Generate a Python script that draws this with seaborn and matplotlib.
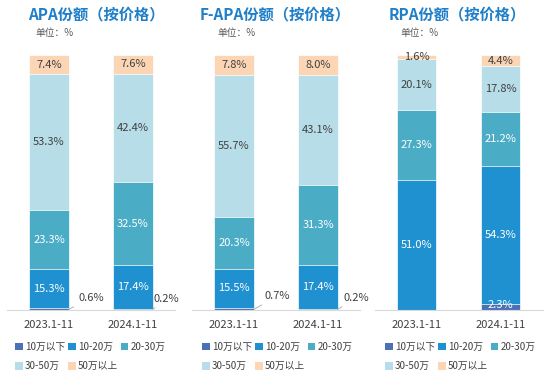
import numpy as np
import pandas as pd
import seaborn as sns
import matplotlib.pyplot as plt
from matplotlib.patches import Patch

sns.set_style("white")
plt.rcParams['font.family'] = ['Noto Sans CJK SC', 'DejaVu Sans']

# data
periods = ['2023.1-11', '2024.1-11']
segments = ['10万以下', '10-20万', '20-30万', '30-50万', '50万以上']
colors = ['#4a70b6', '#1f90d0', '#4bacc6', '#b7dee8', '#fcd5b5']
titles = ['APA份额（按价格）', 'F-APA份额（按价格）', 'RPA份额（按价格）']

apa = [[0.6, 15.3, 23.3, 53.3, 7.4], [0.2, 17.4, 32.5, 42.4, 7.6]]
fapa = [[0.7, 15.5, 20.3, 55.7, 7.8], [0.2, 17.4, 31.3, 43.1, 8.0]]
rpa = [[0.0, 51.0, 27.3, 20.1, 1.6], [2.3, 54.3, 21.2, 17.8, 4.4]]
panels = [apa, fapa, rpa]

# small values shown outside with a leader line: (panel, bar) -> label position
outside = {(0, 0): (0.50, 4.7), (0, 1): (1.40, 4.5),
           (1, 0): (0.52, 5.5), (1, 1): (1.46, 4.8)}

W, H = 550, 378
fig = plt.figure(figsize=(W / 100, H / 100), dpi=100)

ax_left = [7, 192, 374.5]
title_x = [96, 275, 457]
unit_x = [35, 217, 400]
legend_x = [15, 202, 385]
text_dark = '#404040'

for p, data in enumerate(panels):
    ax = fig.add_axes([ax_left[p] / W, 68 / H, 168 / W, 255 / H])

    # stacked bars: draw cumulative totals from the top layer down
    for k in range(len(segments) - 1, -1, -1):
        cum = [sum(v[:k + 1]) for v in data]
        df = pd.DataFrame({'period': periods, 'top': cum})
        sns.barplot(data=df, x='period', y='top', color=colors[k], width=0.476,
                    saturation=1, errorbar=None, edgecolor='white',
                    linewidth=0.5, ax=ax)

    # labels
    for b, v in enumerate(data):
        base = 0
        for k, val in enumerate(v):
            mid = max(base + val / 2, 2.0)
            base += val
            if val == 0:
                continue
            txt = f'{val:.1f}%'
            if (p, b) in outside and k == 0:
                tx, ty = outside[(p, b)]
                ax.annotate(txt, xy=(b + 0.238, 0.3), xytext=(tx, ty),
                            ha='center', va='center', fontsize=8,
                            color=text_dark, annotation_clip=False,
                            arrowprops=dict(arrowstyle='-', color='#a6a6a6',
                                            lw=0.6, shrinkA=1, shrinkB=0))
                continue
            c = 'white' if k < 3 else text_dark
            ax.text(b, mid, txt, ha='center', va='center', fontsize=8,
                    color=c)

    ax.set_xlim(-0.5, 1.5)
    ax.set_ylim(0, 100)
    ax.set_xlabel('')
    ax.set_ylabel('')
    ax.set_yticks([])
    ax.set_xticks([0, 1])
    ax.set_xticklabels(periods, fontsize=8, color=text_dark)
    ax.tick_params(axis='x', length=0, pad=7)
    for s in ['left', 'top', 'right']:
        ax.spines[s].set_visible(False)
    ax.spines['bottom'].set_color('#d9d9d9')
    ax.spines['bottom'].set_linewidth(0.8)

    fig.text(title_x[p] / W, 1 - 14 / H, titles[p], ha='center', va='center',
             fontsize=11, fontweight='bold', color='#1f7fc8')
    fig.text(unit_x[p] / W, 1 - 33 / H, '单位：%', ha='left', va='center',
             fontsize=7, color='#595959')

    # legend, reordered so rows read left to right
    order = [0, 3, 1, 4, 2]
    handles = [Patch(facecolor=colors[i], edgecolor='none') for i in order]
    labels = [segments[i] for i in order]
    fig.legend(handles, labels, ncol=3, loc='upper left',
               bbox_to_anchor=(legend_x[p] / W, 1 - 342 / H), frameon=False,
               fontsize=7, handlelength=0.8, handleheight=0.8,
               handletextpad=0.2, columnspacing=0.3, labelspacing=0.95,
               borderpad=0, borderaxespad=0, labelcolor=text_dark)

fig.savefig('out.png', dpi=100)
